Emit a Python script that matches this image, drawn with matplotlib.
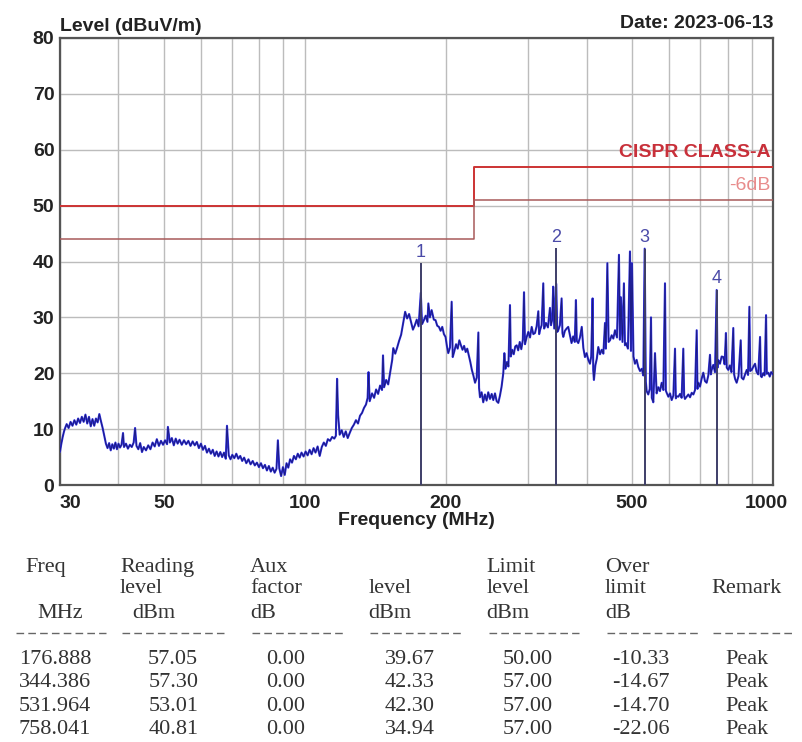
import matplotlib
matplotlib.use("Agg")
import matplotlib.pyplot as plt
from matplotlib.lines import Line2D
from matplotlib.transforms import ScaledTranslation

# ------------------ data --------------------------------------------
trace_mhz = [
    30.0, 30.2, 30.4, 30.6, 30.8, 31.0, 31.3, 31.6, 31.9, 32.2, 32.5, 32.8, 33.1, 33.4, 33.7,
    34.0, 34.3, 34.6, 34.9, 35.2, 35.5, 35.8, 36.1, 36.4, 36.7, 37.0, 37.3, 37.6, 37.9,
    38.2, 38.5, 38.8, 39.1, 39.4, 39.7, 40.0, 40.3, 40.6, 40.9, 41.1, 41.5, 41.9, 42.3, 42.7,
    43.1, 43.4, 43.7, 44.1, 44.5, 44.9, 45.3, 45.8, 46.3, 46.8, 47.3, 47.8, 48.3, 48.8, 49.3,
    49.8, 50.3, 50.8, 51.0, 51.5, 52.0, 52.5, 53.0, 53.5, 54.0, 54.6, 55.2, 55.8, 56.4, 57.0,
    57.6, 58.2, 58.8, 59.4, 60.0, 60.6, 61.2, 61.8, 62.4, 63.0, 63.6, 64.2, 64.8, 65.4, 66.0,
    66.6, 67.2, 67.8, 68.2, 68.8, 69.4, 70.0,
    70.7, 71.4, 72.1, 72.8, 73.5, 74.2, 75.0, 75.8, 76.6, 77.4, 78.2, 79.0, 79.8, 80.6, 81.4,
    82.2, 83.0, 83.8, 84.6, 85.4, 86.2, 87.0, 87.6, 88.2, 89.0, 89.8, 90.6, 91.4, 92.2, 93.0,
    93.9, 94.8, 95.7, 96.6, 97.5, 98.4, 99.4, 100.4, 101.4, 102.4, 103.4, 104.4, 105.4, 106.5,
    107.6, 108.7, 109.8, 110.9, 112.0, 113.2, 114.4, 115.6, 116.5, 117.2, 117.8, 118.7, 119.9,
    121.1, 122.3, 123.5, 124.7,
    126.0, 127.3, 128.6, 129.9, 131.2, 132.5, 133.8, 135.1, 136.2, 136.8, 137.6, 139.2, 140.6,
    142.0, 143.4, 144.8, 146.2, 146.9, 147.7, 149.2, 150.7, 152.2, 153.7, 154.5, 156.0, 157.5,
    159.0, 160.6, 162.2, 163.8, 165.4, 167.0, 168.6, 170.2, 171.8, 173.4, 175.0, 176.9, 178.0,
    179.6, 181.2, 182.8, 183.6, 185.0, 186.6, 188.6, 190.2, 191.8, 193.4, 195.0, 196.6, 198.2,
    199.8, 201.2, 202.5, 204.2, 205.9, 207.0, 208.7, 210.4, 212.1, 213.8, 215.5, 217.2, 218.9,
    220.6, 222.3, 224.0, 225.7, 227.4, 229.1, 231.0, 232.9, 234.8, 235.6, 236.7, 238.6, 240.5,
    242.5, 244.5, 246.5, 248.6, 250.7, 252.7, 254.8, 256.9, 259.0, 261.1, 263.2, 265.4, 266.8,
    268.2, 270.2, 272.2, 274.3, 275.4, 277.3, 279.4, 281.5, 283.5, 285.6, 287.8, 290.0, 292.2,
    293.9, 295.3, 297.8, 300.2, 302.7, 305.2, 307.7, 310.2, 312.7, 315.3, 316.6, 317.9, 320.5,
    323.1, 324.5, 327.4, 330.6, 333.9, 335.6, 337.6, 339.3, 341.0, 344.4, 346.1, 347.8, 350.6,
    353.6, 355.0, 356.5, 359.4, 362.4, 365.3, 368.3, 371.3, 374.3, 377.3, 379.4, 381.0, 383.8,
    387.0, 390.4, 393.5, 396.6, 399.8, 403.2, 406.5, 409.0, 411.8, 413.1, 414.5, 417.4, 420.4,
    423.5, 427.1, 430.7, 434.2, 437.7, 439.6, 442.8, 445.6, 448.6, 452.3, 456.0, 459.8, 464.3,
    468.8, 471.0, 473.3, 476.9, 480.4, 482.8, 485.2, 490.0, 494.9, 497.3, 499.8, 503.5, 507.2,
    511.4, 515.6, 520.0, 524.5, 528.5, 532.0, 535.0, 537.3, 541.5, 545.5, 548.8, 551.0, 555.1,
    559.7, 564.2, 568.9, 573.6, 578.4, 583.1, 587.9, 590.3, 592.8, 597.7, 602.6, 607.6, 612.6,
    617.6, 620.1, 622.7, 627.8, 633.0, 638.1, 643.3, 645.9, 648.5, 654.1, 659.5, 665.0, 670.5,
    676.0, 681.6, 687.1, 689.8, 692.5, 698.2, 703.9, 709.8, 715.6, 721.6, 727.5, 733.5, 736.5,
    739.6, 745.6, 751.8, 758.0, 761.2, 764.2, 770.4, 776.8, 783.1, 788.2, 793.4, 796.6, 802.5,
    808.8, 815.2, 822.6, 826.0, 829.8, 836.3, 844.0, 853.2, 857.0, 864.4, 871.6, 878.8, 884.5,
    890.3, 894.0, 900.8, 908.1, 915.5, 922.0, 930.0, 938.3, 942.0, 946.1, 952.5, 959.5, 966.4,
    970.0, 977.4, 984.0, 991.0, 1000.0,
]
trace_dbuv = [
    6.0, 7.4, 8.6, 9.6, 10.3, 10.9, 10.2, 11.3, 10.6, 11.6, 10.8, 11.9, 11.1, 12.2, 11.3,
    12.6, 11.0, 12.2, 10.5, 11.8, 10.6, 11.9, 11.2, 12.7, 11.4, 10.2, 8.8, 7.4, 6.6,
    7.5, 6.2, 7.3, 6.5, 7.6, 6.4, 7.4, 6.7, 7.2, 9.3, 6.8, 7.4, 6.5, 7.2, 6.8,
    7.6, 10.2, 7.0, 6.4, 7.5, 5.9, 6.8, 6.2, 7.1, 6.4, 7.6, 6.9, 8.2, 7.0, 7.9,
    7.2, 8.0, 7.3, 10.4, 7.6, 8.4, 7.1, 8.3, 7.4, 8.1, 7.2, 8.0, 7.3, 7.9, 7.0,
    7.8, 7.1, 7.7, 6.6, 7.4, 6.3, 7.0, 5.8, 6.5, 5.6, 6.3, 5.2, 6.0, 5.1, 5.9,
    5.0, 5.8, 4.7, 10.6, 5.3, 4.6, 5.4,
    4.8, 5.6, 4.7, 5.2, 4.3, 4.9, 3.9, 4.6, 3.7, 4.3, 3.5, 4.0, 3.2, 3.9, 3.0,
    3.6, 2.6, 3.4, 2.4, 3.1, 2.2, 2.9, 8.0, 3.0, 1.6, 3.2, 1.8, 3.9, 3.1, 4.6,
    4.0, 5.2, 4.6, 5.6, 4.9, 5.8, 5.1, 6.0, 5.3, 6.3, 5.5, 6.6, 5.8, 6.9,
    5.2, 6.8, 7.6, 7.0, 8.2, 7.9, 8.6, 8.3, 8.8, 19.0, 12.5, 9.0, 9.8,
    8.6, 9.6, 8.4, 9.3,
    10.2, 10.8, 11.6, 11.0, 12.4, 12.9, 13.8, 14.4, 15.6, 20.2, 15.0, 16.4, 15.6,
    17.1, 16.3, 17.8, 17.0, 23.2, 17.5, 18.8, 18.0, 20.2, 22.4, 24.5, 23.5, 24.6,
    25.8, 26.9, 29.0, 31.0, 29.8, 30.6, 29.2, 27.8, 28.6, 29.6, 28.4, 34.4, 28.8,
    29.5, 30.3, 29.2, 32.5, 30.0, 31.3, 29.6, 29.5, 28.5, 28.3, 27.6, 28.3, 27.0,
    26.5, 24.8, 23.6, 24.6, 32.8, 22.9, 24.0, 25.2, 24.4, 25.9, 25.0, 24.2, 24.9,
    23.8, 24.4, 23.2, 22.0, 20.6, 19.6, 18.3, 19.2, 27.3, 17.4, 15.7, 16.6, 14.8,
    16.2, 15.1, 16.6, 15.4, 16.3, 15.2, 16.4, 15.0, 14.7, 16.0, 17.6, 20.0, 23.6,
    20.8, 22.0, 21.2, 32.2, 23.0, 24.2, 23.4, 24.8, 25.0, 24.1, 25.6, 24.3, 26.0,
    34.5, 25.2, 26.5, 27.4, 26.4, 28.3, 27.0, 27.2, 28.4, 31.1, 27.0, 27.7, 28.6,
    36.1, 28.0, 29.0, 28.2, 31.7, 28.6, 29.6, 35.5, 28.0, 36.0, 27.4, 27.7, 28.6,
    33.4, 27.2, 26.5, 27.6, 28.0, 28.3, 26.8, 25.4, 26.6, 25.6, 33.1, 25.8, 25.4,
    26.4, 28.3, 24.5, 22.9, 23.6, 22.4, 21.7, 23.0, 33.4, 20.5, 18.8, 21.4, 22.6,
    24.7, 23.4, 24.2, 23.5, 29.0, 24.4, 39.7, 25.6, 25.9, 26.8, 26.2, 27.7, 26.4,
    41.2, 26.0, 33.6, 25.6, 36.1, 25.0, 25.4, 24.4, 41.8, 24.0, 39.7, 23.0, 21.7,
    22.4, 21.1, 20.4, 20.8, 19.6, 42.3, 18.5, 16.8, 16.2, 17.2, 30.0, 15.6, 14.8,
    23.6, 16.4, 17.5, 16.8, 18.3, 17.0, 36.1, 16.9, 16.5, 15.8, 16.4, 15.2, 16.0,
    24.4, 15.5, 15.9, 15.8, 16.3, 15.6, 24.4, 16.0, 15.4, 15.8, 16.2, 15.7, 16.5,
    16.2, 17.0, 27.7, 17.2, 18.3, 17.6, 19.0, 20.1, 18.6, 18.3, 19.6, 23.3, 19.8,
    20.6, 21.5, 20.2, 34.9, 21.0, 22.3, 21.7, 23.0, 22.9, 21.6, 27.2, 21.0, 20.6,
    21.4, 20.2, 28.1, 19.8, 19.0, 18.3, 19.5, 25.9, 19.2, 18.9, 19.8, 20.6, 19.7,
    31.9, 20.4, 20.6, 21.2, 21.7, 20.3, 19.8, 26.5, 19.5, 19.3, 20.0, 19.6, 30.4,
    19.9, 20.1, 19.4, 20.2, 19.8,
]

limit_mhz = [30, 230, 230, 1000]
limit_db = [50, 50, 57, 57]
margin_db = 6

marker_mhz = [176.888, 344.386, 531.964, 758.041]
marker_reading = [57.05, 57.30, 53.01, 40.81]
marker_aux = [0.00, 0.00, 0.00, 0.00]
marker_level = [39.67, 42.33, 42.30, 34.94]
marker_limit = [50.00, 57.00, 57.00, 57.00]
marker_over = [-10.33, -14.67, -14.70, -22.06]
marker_remark = ["Peak", "Peak", "Peak", "Peak"]

xtick_vals = [30, 50, 100, 200, 500, 1000]
xgrid_vals = [40, 60, 70, 80, 90, 300, 400, 600, 700, 800, 900]

# ------------------ figure ----------------------
W, H = 802, 742
fig = plt.figure(figsize=(W / 100, H / 100), dpi=100)


def fx(x):
    return x / W


def fy(y):
    return 1 - y / H


ax = fig.add_axes([fx(60), fy(485), fx(713), 447 / H])
ax.set_xscale("log")
ax.set_xlim(30, 1000)
ax.set_ylim(0, 80)

ax.set_xticks(xtick_vals)
ax.set_xticklabels([str(v) for v in xtick_vals])
ax.set_xticks(xgrid_vals, minor=True)
ax.set_xticklabels([], minor=True)
ax.set_yticks(range(0, 81, 10))
ax.grid(True, which="both", axis="x", color="#bcbcbc", lw=1.0)
ax.grid(True, which="major", axis="y", color="#bcbcbc", lw=1.0)
ax.set_axisbelow(True)
ax.tick_params(which="both", length=0)
ax.tick_params(axis="x", pad=7)
ax.tick_params(axis="y", pad=4)
for lab in ax.get_xticklabels() + ax.get_yticklabels():
    lab.set_fontfamily("Liberation Sans")
    lab.set_fontweight("bold")
    lab.set_fontsize(14)
    lab.set_color("#222222")

# nudge the end labels inside like the original
xl = ax.get_xticklabels()
xl[0].set_transform(xl[0].get_transform() + ScaledTranslation(10 / 100, 0, fig.dpi_scale_trans))
xl[-1].set_transform(xl[-1].get_transform() + ScaledTranslation(-7 / 100, 0, fig.dpi_scale_trans))

for s in ax.spines.values():
    s.set_color("#555555")
    s.set_linewidth(1.6)

# limit lines
ax.plot(limit_mhz, limit_db, color="#cc3333", lw=1.4, zorder=3)
ax.plot(limit_mhz, [v - margin_db for v in limit_db], color="#a85a5a", lw=1.1, zorder=3)
ax.text(990, 57.9, "CISPR CLASS-A", color="#c8303a", fontsize=14, fontweight="bold",
        family="Liberation Sans", ha="right", va="bottom")
ax.text(990, 52.0, "-6dB", color="#e88c8c", fontsize=14,
        family="Liberation Sans", ha="right", va="bottom")

# trace
ax.plot(trace_mhz, trace_dbuv, color="#3030e0", lw=1.5, zorder=4)
ax.plot(trace_mhz, trace_dbuv, color="#1a1a78", lw=0.6, zorder=5)

# markers
for i, (f, lv) in enumerate(zip(marker_mhz, marker_level)):
    ax.vlines(f, 0, lv, color="#3e3e68", lw=1.4, zorder=6)
    ax.annotate(str(i + 1), (f, lv), xytext=(0, 2), textcoords="offset points",
                ha="center", va="bottom", color="#4a4aa8", fontsize=13,
                family="Liberation Sans")

# header texts
fig.text(fx(60), fy(31), "Level (dBuV/m)", fontsize=14, fontweight="bold",
         family="Liberation Sans", ha="left", va="baseline", color="#222222")
fig.text(fx(773), fy(28), "Date: 2023-06-13", fontsize=14, fontweight="bold",
         family="Liberation Sans", ha="right", va="baseline", color="#222222")
fig.text(fx(416.5), fy(525), "Frequency (MHz)", fontsize=14, fontweight="bold",
         family="Liberation Sans", ha="center", va="baseline", color="#222222")

# ------------------ result table ----------------------
cw = 11.83
x0 = 13.5


def colx(c):
    return x0 + c * cw


tbl_font = dict(family="Liberation Serif", fontsize=16, color="#333333", va="baseline")

headers = [
    (572, [("Freq", 1), ("Reading", 9), ("Aux", 20), ("Limit", 40), ("Over", 50)]),
    (593, [("level", 9), ("factor", 20), ("level", 30), ("level", 40), ("limit", 50), ("Remark", 59)]),
    (618, [("MHz", 2), ("dBm", 10), ("dB", 20), ("dBm", 30), ("dBm", 40), ("dB", 50)]),
]
for yb, cells in headers:
    for txt, c in cells:
        fig.text(fx(colx(c)), fy(yb), txt, ha="left", **tbl_font)

# dashed rule under the headers, one group per column
dash_groups = [(0, 8), (9, 9), (20, 8), (30, 8), (40, 8), (50, 8), (59, 7)]
for c, n in dash_groups:
    x_a = colx(c) + 2
    x_b = colx(c + n) - 2
    fig.add_artist(Line2D([fx(x_a), fx(x_b)], [fy(633), fy(633)], transform=fig.transFigure,
                          color="#666666", lw=1.0, linestyle=(0, (5.5, 3.0))))

row_base = [664, 687, 711, 734]
for i in range(len(marker_mhz)):
    cells = [
        ("%.3f" % marker_mhz[i], 0, 7),
        ("%.2f" % marker_reading[i], 11, 5),
        ("%.2f" % marker_aux[i], 21, 4),
        ("%.2f" % marker_level[i], 31, 5),
        ("%.2f" % marker_limit[i], 41, 5),
        ("%.2f" % marker_over[i], 50, 6),
        (marker_remark[i], 60, 4),
    ]
    for txt, c, n in cells:
        fig.text(fx(colx(c) + n * cw / 2), fy(row_base[i]), txt, ha="center", **tbl_font)

fig.savefig("out.png", dpi=100)
